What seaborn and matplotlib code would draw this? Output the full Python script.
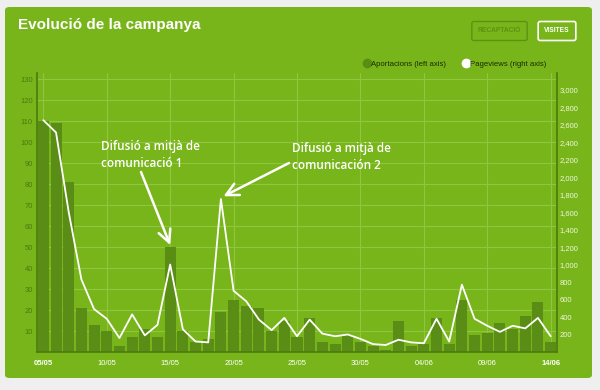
import matplotlib
matplotlib.use("Agg")
import matplotlib.pyplot as plt
from matplotlib.patches import FancyBboxPatch
from matplotlib.lines import Line2D
from matplotlib.ticker import FuncFormatter
import numpy as np
import pandas as pd
import seaborn as sns

dies = ["05/05", "06/05", "07/05", "08/05", "09/05", "10/05", "11/05", "12/05", "13/05",
        "14/05", "15/05", "16/05", "17/05", "18/05", "19/05", "20/05", "21/05", "22/05",
        "23/05", "24/05", "25/05", "26/05", "27/05", "28/05", "29/05", "30/05", "31/05",
        "01/06", "02/06", "03/06", "04/06", "05/06", "06/06", "07/06", "08/06", "09/06",
        "10/06", "11/06", "12/06", "13/06", "14/06"]
aportacions = [110, 109, 81, 21, 13, 10, 3, 7, 11, 7, 50, 10, 5, 6, 19, 25, 22, 21, 10, 15,
               7, 16, 5, 4, 8, 5, 3, 1, 15, 3, 4, 16, 4, 25, 8, 9, 14, 11, 17, 24, 5]
pageviews = [2650, 2510, 1600, 830, 490, 380, 160, 430, 190, 310, 1000, 260, 120, 110, 1750,
             700, 580, 370, 250, 390, 180, 370, 210, 180, 200, 150, 90, 80, 140, 110, 100,
             380, 120, 770, 380, 300, 230, 300, 270, 390, 180]
left_ticks = list(range(10, 131, 10))
right_ticks = list(range(200, 3001, 200))

GREEN = "#78b51a"
BAR = "#5a8d15"
GRID = "#8ec63f"
DARK = "#4c7a0e"

df = pd.DataFrame({"dia": dies, "aportacions": aportacions, "pageviews": pageviews})
df["pos"] = np.arange(len(df))

sns.set_style("white")
plt.rcParams["font.family"] = ["Liberation Sans", "DejaVu Sans"]

W, H = 600, 390
fig = plt.figure(figsize=(6, 3.9), dpi=100)
fig.patch.set_facecolor("#efefef")


def fx(x):
    return x / W


def fy(y):
    return 1 - y / H


panel = FancyBboxPatch((fx(5), fy(378)), fx(587), (378 - 7) / H,
                       boxstyle="round,pad=0,rounding_size=0.008",
                       transform=fig.transFigure, facecolor=GREEN, edgecolor="none", zorder=-10)
fig.patches.append(panel)

ax = fig.add_axes([fx(37), fy(352), fx(557 - 37), (352 - 73) / H])
ax.set_facecolor(GREEN)
ax.patch.set_alpha(0)

sns.barplot(data=df, x="dia", y="aportacions", color=BAR, width=0.87,
            saturation=1, edgecolor="none", linewidth=0, ax=ax, zorder=2)
ax.set_xlim(-0.5, len(df) - 0.5)
ax.set_ylim(0, 133)
ax.set_yticks(left_ticks)
ax.set_xticks(df["pos"][::5])
ax.set_xticklabels(df["dia"][::5])
ax.grid(True, color=GRID, lw=0.8, zorder=0)
ax.set_axisbelow(True)
ax.set_xlabel("")
ax.set_ylabel("")
ax.tick_params(axis="y", labelsize=5.5, labelcolor=DARK, length=0, pad=3)
ax.tick_params(axis="x", labelsize=5.5, labelcolor="white", length=0, pad=6)
for i, lab in enumerate(ax.get_xticklabels()):
    if i in (0, len(ax.get_xticklabels()) - 1):
        lab.set_fontweight("bold")
for s in ["top", "right"]:
    ax.spines[s].set_visible(False)
for s in ["left", "bottom"]:
    ax.spines[s].set_color(DARK)
    ax.spines[s].set_linewidth(1.2)

ax2 = ax.twinx()
sns.lineplot(data=df, x="pos", y="pageviews", color="white", lw=1.3, ax=ax2, zorder=3)
ax2.set_ylim(0, 3190)
ax2.set_yticks(right_ticks)
ax2.yaxis.set_major_formatter(FuncFormatter(lambda v, p: f"{int(v):,}"))
ax2.set_xlim(-0.5, len(df) - 0.5)
ax2.set_ylabel("")
ax2.set_xlabel("")
ax2.tick_params(axis="y", labelsize=5.5, labelcolor="#eef7dc", length=0, pad=2)
for s in ["top", "left", "bottom"]:
    ax2.spines[s].set_visible(False)
ax2.spines["right"].set_color(DARK)
ax2.spines["right"].set_linewidth(1.2)

# title and buttons
fig.text(fx(18), fy(25), "Evolució de la campanya", color="white", fontsize=11,
         fontweight="bold", va="center", ha="left")
fig.text(fx(499.5), fy(31), "RECAPTACIÓ", color="#5c9212", fontsize=4.8, fontweight="bold",
         ha="center", va="center",
         bbox=dict(boxstyle="round,pad=0.9,rounding_size=0.3", fc=GREEN, ec="#5c9212", lw=1))
fig.text(fx(557), fy(31), "VISITES", color="white", fontsize=4.8, fontweight="bold",
         ha="center", va="center",
         bbox=dict(boxstyle="round,pad=0.9,rounding_size=0.3", fc=GREEN, ec="white", lw=1.2))

# legend
handles = [Line2D([], [], marker="o", ls="", color=BAR, markersize=6),
           Line2D([], [], marker="o", ls="", color="white", markersize=6)]
fig.legend(handles, ["Aportacions (left axis)", "Pageviews (right axis)"],
           loc="center left", bbox_to_anchor=(fx(356), fy(64)), ncol=2, frameon=False,
           fontsize=5.6, handletextpad=0.0, columnspacing=2.1, handlelength=1,
           labelcolor="#1a2b00")

# annotations
ann_font = dict(family=["Open Sans", "DejaVu Sans"], fontsize=8.5, color="white",
                fontweight="semibold", linespacing=1.45)
arrow = dict(arrowstyle="->,head_length=0.9,head_width=0.45", color="white", lw=1.8,
             shrinkA=0, shrinkB=0)
ax.annotate("Difusió a mitjà de\ncomunicació 1", xy=(10, 52), xycoords="data",
            xytext=(fx(101), fy(155)), textcoords="figure fraction",
            ha="left", va="center", **ann_font)
ax.annotate("", xy=(10, 51), xycoords="data", xytext=(fx(141), fy(172)),
            textcoords="figure fraction", arrowprops=arrow)
ax2.annotate("Difusió a mitjà de\ncomunicación 2", xy=(14.3, 1790), xycoords="data",
             xytext=(fx(292), fy(157)), textcoords="figure fraction",
             ha="left", va="center", **ann_font)
ax2.annotate("", xy=(14.2, 1780), xycoords="data", xytext=(fx(289), fy(163)),
             textcoords="figure fraction", arrowprops=arrow)

fig.savefig("out.png", dpi=100, facecolor=fig.get_facecolor())
